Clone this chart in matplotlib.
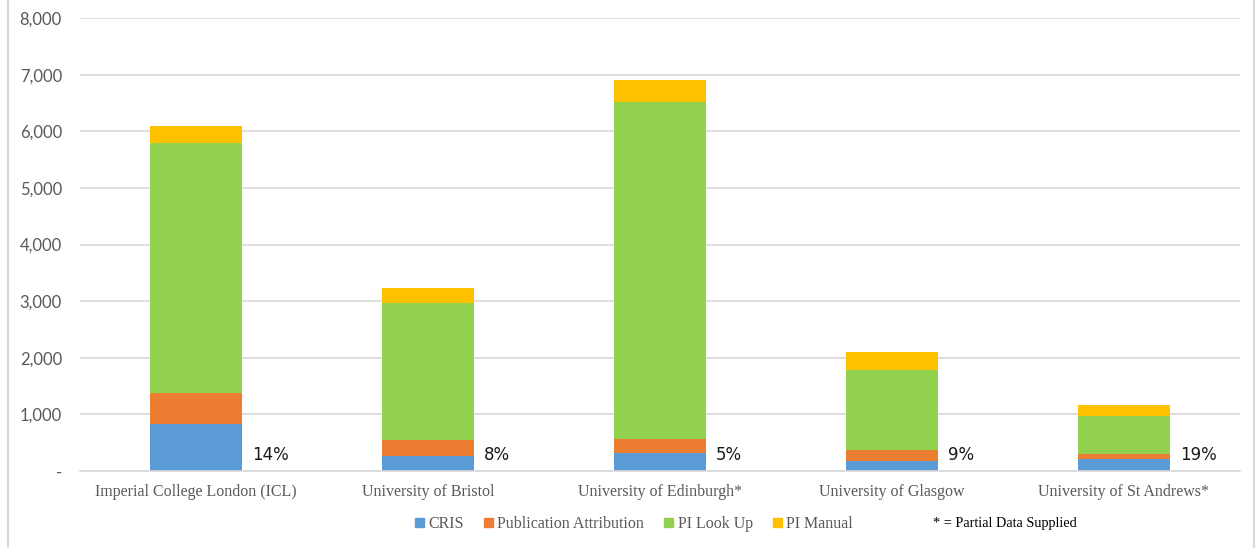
import matplotlib.pyplot as plt
import numpy as np
from matplotlib.lines import Line2D
from matplotlib.patches import Patch
from matplotlib.ticker import FuncFormatter

universities = ["Imperial College London (ICL)", "University of Bristol",
                "University of Edinburgh*", "University of Glasgow",
                "University of St Andrews*"]
cris = [835, 265, 312, 182, 212]
pub_attribution = [545, 283, 253, 189, 94]
pi_lookup = [4405, 2418, 5949, 1408, 666]
pi_manual = [300, 267, 394, 318, 194]
pct_labels = ["14%", "8%", "5%", "9%", "19%"]

series = [("CRIS", cris, "#5b9bd5"),
          ("Publication Attribution", pub_attribution, "#ed7d31"),
          ("PI Look Up", pi_lookup, "#92d050"),
          ("PI Manual", pi_manual, "#ffc000")]

fig = plt.figure(figsize=(12.56, 5.48), dpi=100)
ax = fig.add_axes([80 / 1256, 1 - 471 / 548, 1160 / 1256, 453 / 548])

x = np.arange(len(universities))
bottom = np.zeros(len(universities))
for name, vals, col in series:
    ax.bar(x, vals, 0.4, bottom=bottom, color=col, label=name, zorder=2)
    bottom += np.array(vals)

# percentage labels to the right of each bar
for xi, lab in zip(x, pct_labels):
    ax.text(xi + 0.24, 290, lab, fontsize=12, family="DejaVu Sans",
            va="center", ha="left", color="#1a1a1a")

ax.set_xlim(-0.5, len(universities) - 0.5)
ax.set_ylim(0, 8000)
ax.set_yticks(range(0, 8001, 1000))
ax.yaxis.set_major_formatter(FuncFormatter(
    lambda v, p: "-" if v == 0 else f"{int(v):,}"))
ax.grid(axis="y", color="#d9d9d9", lw=1.2, zorder=0)
ax.set_xticks(x)
ax.set_xticklabels(universities, family="Liberation Serif", fontsize=11.5,
                   color="#595959")
for lab in ax.get_yticklabels():
    lab.set_family("Lato")
    lab.set_fontsize(12)
    lab.set_color("#595959")
ax.tick_params(axis="both", length=0)
ax.tick_params(axis="x", pad=9)
ax.tick_params(axis="y", pad=13)
for s in ["top", "left", "right"]:
    ax.spines[s].set_visible(False)
ax.spines["bottom"].set_color("#d9d9d9")
ax.spines["bottom"].set_linewidth(1.2)

handles = [Patch(color=c, label=n) for n, _, c in series]
leg = fig.legend(handles=handles, loc="center",
                 bbox_to_anchor=(634 / 1256, 1 - 524 / 548),
                 ncol=4, frameon=False, handlelength=0.55, handleheight=0.55,
                 handletextpad=0.3, columnspacing=1.25,
                 prop={"family": "Liberation Serif", "size": 11.5})
for t in leg.get_texts():
    t.set_color("#595959")

fig.text(933 / 1256, 1 - 524 / 548, "* = Partial Data Supplied",
         family="Liberation Serif", fontsize=10.3, ha="left", va="center")

# outer frame lines on left and right
fig.add_artist(Line2D([8 / 1256, 8 / 1256], [0, 1], color="#d9d9d9", lw=1.5))
fig.add_artist(Line2D([1254 / 1256, 1254 / 1256], [0, 1], color="#d9d9d9", lw=1.5))

fig.savefig("out.png", dpi=100, facecolor="white")
